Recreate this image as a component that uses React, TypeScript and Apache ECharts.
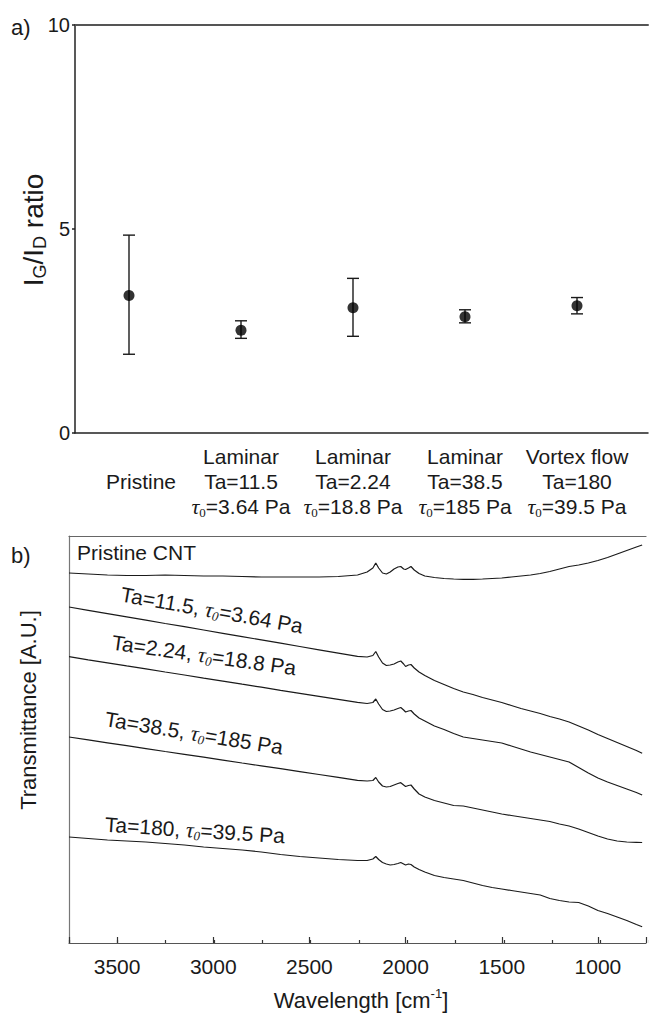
import React, { useEffect, useRef } from 'react';
import * as echarts from 'echarts';

// ---------- Panel a data ----------
const categories = ['Pristine', 'Laminar Ta=11.5', 'Laminar Ta=2.24', 'Laminar Ta=38.5', 'Vortex flow Ta=180'];
const categoryLabels = [
  '\n{p|Pristine}',
  'Laminar\nTa=11.5\n{t|τ}{s|0}=3.64 Pa',
  'Laminar\nTa=2.24\n{t|τ}{s|0}=18.8 Pa',
  'Laminar\nTa=38.5\n{t|τ}{s|0}=185 Pa',
  'Vortex flow\nTa=180\n{t|τ}{s|0}=39.5 Pa',
];
const ratioMean = [3.37, 2.52, 3.07, 2.85, 3.12];
const ratioLow = [1.93, 2.32, 2.37, 2.70, 2.92];
const ratioHigh = [4.85, 2.75, 3.79, 3.02, 3.32];
const ratioAxis = { min: 0, max: 10, interval: 5 };

// ---------- Panel b data (wavenumber in cm-1, transmittance in arbitrary units) ----------
const wavenumbers = [
  3750, 3650, 3550, 3450, 3350, 3250, 3150, 3050, 2950, 2850,
  2750, 2650, 2550, 2450, 2350, 2250, 2200, 2170, 2155, 2140,
  2120, 2100, 2080, 2060, 2040, 2025, 2010, 2000, 1985, 1972,
  1955, 1930, 1900, 1850, 1800, 1750, 1700, 1650, 1600, 1550,
  1500, 1450, 1400, 1350, 1300, 1250, 1200, 1150, 1100, 1050,
  1000, 950, 900, 850, 800, 770,
];
const pristineCNT = [
  370, 369, 368, 367.5, 367.5, 368, 367.5, 367, 367, 366.5,
  366, 366, 366, 366, 366.5, 368, 371, 375, 380, 375,
  370, 369, 371, 374, 376, 376.5, 374, 373.5, 375, 376.5,
  373, 369.5, 367, 365.5, 364.5, 364, 363.7, 363.7, 364, 364.5,
  365, 366, 367, 368, 369.5, 371.5, 374, 376.5, 378, 380,
  382.5, 385.5, 389, 392.5, 396, 398,
];
const ta11_5 = [
  336, 332.7, 329.4, 326.1, 322.8, 319.5, 316.3, 313, 309.7, 306.4,
  303.1, 299.8, 296.5, 293.2, 289.9, 286.6, 286, 287.5, 291.5, 286,
  280, 277.5, 278, 279, 281, 282, 279, 276.5, 278, 278.5,
  275, 271, 267.5, 262.5, 258.5, 254.5, 251, 248.5, 245.5, 243,
  240.5, 237.5, 234.5, 232, 229.5, 226.5, 224, 221, 217, 213,
  208.5, 204.5, 200.5, 196.5, 192.5, 189.7,
];
const ta2_24 = [
  286.3, 283.2, 280.2, 277.1, 274.1, 271, 268, 264.9, 261.9, 258.8,
  255.8, 252.7, 249.7, 246.6, 243.6, 240.6, 239.5, 240.5, 244, 239,
  233.5, 231.5, 232, 233, 234.5, 235.5, 233, 231, 232, 232.5,
  229, 225, 222, 217, 213.5, 209.5, 206, 204.5, 203, 201.5,
  200, 197, 194, 191, 188.5, 186, 183.5, 181, 175.5, 170,
  165, 161, 157.5, 154, 150.5, 148,
];
const ta38_5 = [
  206, 203.1, 200.2, 197.3, 194.4, 191.5, 188.7, 185.8, 182.9, 180,
  177.2, 174.3, 171.4, 168.5, 165.6, 162.7, 162, 162.5, 165.5, 161,
  157, 156, 156.5, 158, 159.5, 160.3, 158, 156.5, 157.5, 158,
  154, 149, 146, 142.5, 140, 137.5, 137, 135, 133, 131,
  129, 127.5, 126, 124.5, 123, 121.5, 119, 117, 114, 110.5,
  107, 104, 102, 101, 100.7, 100.5,
];
const ta180 = [
  106, 104.5, 103, 102, 101, 99.5, 98, 96, 94.5, 93,
  91, 88.5, 86.5, 85, 83.5, 82.5, 82.5, 84, 86.5, 83.5,
  80.5, 79, 78, 78.5, 79.5, 80.5, 79, 78, 79, 78.5,
  76, 73.5, 71, 67.5, 65.5, 64, 62.5, 60, 57.5, 55.5,
  54, 52.5, 51, 49.5, 48, 44.5, 42.5, 41, 40.5, 37,
  32.5, 29.5, 26, 22.5, 18.5, 16.3,
];
const spectra = [pristineCNT, ta11_5, ta2_24, ta38_5, ta180];
const spectrumNames = ['Pristine CNT', 'Ta=11.5', 'Ta=2.24', 'Ta=38.5', 'Ta=180'];
const waveAxis = { min: 750, max: 3750 };
const transAxis = { min: 0, max: 407 };

const SANS = '"Liberation Sans", Arial, Helvetica, sans-serif';
const SERIF = '"Liberation Serif", "DejaVu Serif", serif';
const INK = '#1a1a1a';

export default function App() {
  const ref = useRef<HTMLDivElement>(null);

  useEffect(() => {
    document.body.style.margin = '0';
    const chart = echarts.init(ref.current!, null, { renderer: 'svg' });

    const tauRich = {
      t: { fontFamily: SERIF, fontStyle: 'italic', fontSize: 22, color: INK, lineHeight: 25 },
      s: { fontFamily: SERIF, fontSize: 13, color: INK, verticalAlign: 'bottom' },
      p: { fontFamily: SANS, fontSize: 21, color: INK, padding: [0, 0, 0, 24], lineHeight: 25 },
    };
    const annRich = {
      t: { fontFamily: SERIF, fontStyle: 'italic', fontSize: 22, fill: INK, lineHeight: 24 },
      s: { fontFamily: SERIF, fontStyle: 'italic', fontSize: 13, fill: INK, verticalAlign: 'bottom' },
    };

    const annText = (x: number, y: number, rot: number, text: string, align = 'center') => ({
      type: 'text',
      x, y,
      rotation: rot,
      style: {
        text,
        fontFamily: SANS,
        fontSize: 21,
        fill: INK,
        align, textAlign: align,
        verticalAlign: 'middle', textVerticalAlign: 'middle',
        lineHeight: 24,
        rich: annRich,
      },
    });

    const option: any = {
      animation: false,
      backgroundColor: '#fff',
      grid: [
        { left: 75, top: 25, width: 573, height: 408 },
        { left: 73, top: 25, width: 560, height: 408 },
        { left: 69, top: 536, width: 583, height: 407 },
        { left: 69, top: 536, width: 583, height: 407 },
      ],
      xAxis: [
        {
          gridIndex: 0, type: 'value', min: 0, max: 1, position: 'bottom',
          axisLine: { show: true, onZero: false, lineStyle: { color: '#222', width: 1.5 } },
          axisTick: { show: false }, axisLabel: { show: false }, splitLine: { show: false },
        },
        {
          gridIndex: 0, type: 'value', min: 0, max: 1, position: 'top',
          axisLine: { show: true, onZero: false, lineStyle: { color: '#555', width: 2 } },
          axisTick: { show: false }, axisLabel: { show: false }, splitLine: { show: false },
        },
        {
          gridIndex: 1, type: 'category', data: categories, position: 'bottom',
          axisLine: { show: false, onZero: false }, axisTick: { show: false }, splitLine: { show: false },
          axisLabel: {
            interval: 0,
            margin: 11,
            fontFamily: SANS, fontSize: 21, color: INK, lineHeight: 25,
            formatter: (_v: string, i: number) => categoryLabels[i],
            rich: tauRich,
          },
        },
        {
          gridIndex: 2, type: 'value', inverse: true, min: waveAxis.min, max: waveAxis.max, position: 'bottom',
          axisLine: { show: true, onZero: false, lineStyle: { color: '#555', width: 1.2 } },
          axisTick: { show: true, inside: true, length: 6, lineStyle: { color: '#333', width: 1.2 } },
          splitLine: { show: false },
          axisLabel: {
            margin: 13, fontFamily: SANS, fontSize: 21, color: INK,
            formatter: (v: number) => (v % 500 === 0 ? String(v) : ''),
          },
        },
        {
          gridIndex: 2, type: 'value', inverse: true, min: waveAxis.min, max: waveAxis.max, position: 'top',
          axisLine: { show: true, onZero: false, lineStyle: { color: '#666', width: 1.2 } },
          axisTick: { show: false }, axisLabel: { show: false }, splitLine: { show: false },
        },
        {
          gridIndex: 3, type: 'value', inverse: true, min: waveAxis.min, max: waveAxis.max, interval: 250, position: 'bottom',
          axisLine: { show: false, onZero: false },
          axisTick: { show: true, inside: true, length: 3, lineStyle: { color: '#333', width: 1.2 } },
          axisLabel: { show: false }, splitLine: { show: false },
        },
      ],
      yAxis: [
        {
          gridIndex: 0, type: 'value', min: ratioAxis.min, max: ratioAxis.max, interval: ratioAxis.interval,
          axisLine: { show: true, onZero: false, lineStyle: { color: '#222', width: 1.5 } },
          axisTick: { show: true, inside: false, length: 3, lineStyle: { color: '#222', width: 1.5 } },
          splitLine: { show: false },
          axisLabel: { margin: 5, fontFamily: SANS, fontSize: 20, color: INK },
        },
        {
          gridIndex: 1, type: 'value', min: ratioAxis.min, max: ratioAxis.max, show: false,
          splitLine: { show: false },
        },
        {
          gridIndex: 2, type: 'value', min: transAxis.min, max: transAxis.max,
          axisLine: { show: true, onZero: false, lineStyle: { color: '#777', width: 1.2 } },
          axisTick: { show: false }, axisLabel: { show: false }, splitLine: { show: false },
        },
        {
          gridIndex: 3, type: 'value', min: transAxis.min, max: transAxis.max, show: false,
          splitLine: { show: false },
        },
      ],
      series: [
        {
          type: 'custom',
          xAxisIndex: 2, yAxisIndex: 1,
          data: categories.map((_c, i) => [i, ratioLow[i], ratioHigh[i]]),
          encode: { x: 0, y: [1, 2] },
          z: 2,
          renderItem: (_params: any, api: any) => {
            const x = api.value(0);
            const lo = api.coord([x, api.value(1)]);
            const hi = api.coord([x, api.value(2)]);
            const w = 6;
            const style = { stroke: INK, lineWidth: 1.4 };
            return {
              type: 'group',
              children: [
                { type: 'line', shape: { x1: hi[0], y1: hi[1], x2: lo[0], y2: lo[1] }, style },
                { type: 'line', shape: { x1: hi[0] - w, y1: hi[1], x2: hi[0] + w, y2: hi[1] }, style },
                { type: 'line', shape: { x1: lo[0] - w, y1: lo[1], x2: lo[0] + w, y2: lo[1] }, style },
              ],
            };
          },
        },
        {
          type: 'scatter',
          xAxisIndex: 2, yAxisIndex: 1,
          data: ratioMean,
          symbol: 'circle', symbolSize: 11,
          itemStyle: { color: '#000' },
          z: 3,
        },
        ...spectra.map((arr, k) => ({
          type: 'line',
          name: spectrumNames[k],
          xAxisIndex: 3, yAxisIndex: 2,
          data: wavenumbers.map((w, i) => [w, arr[i]]),
          showSymbol: false,
          symbol: 'none',
          lineStyle: { color: INK, width: 1.2 },
          z: 2,
        })),
      ],
      graphic: [
        {
          type: 'text', x: 11, y: 27,
          style: { text: 'a)', fontFamily: SANS, fontSize: 22, fill: INK, align: 'left', textAlign: 'left', verticalAlign: 'middle', textVerticalAlign: 'middle' },
        },
        {
          type: 'text', x: 11, y: 555,
          style: { text: 'b)', fontFamily: SANS, fontSize: 22, fill: INK, align: 'left', textAlign: 'left', verticalAlign: 'middle', textVerticalAlign: 'middle' },
        },
        {
          type: 'text', x: 33, y: 230, rotation: Math.PI / 2,
          style: {
            text: 'I{sub|G}/I{sub|D} ratio',
            fontFamily: SANS, fontSize: 28, fill: INK,
            align: 'center', textAlign: 'center', verticalAlign: 'middle', textVerticalAlign: 'middle',
            lineHeight: 32,
            rich: { sub: { fontFamily: SANS, fontSize: 18, fill: INK, verticalAlign: 'bottom' } },
          },
        },
        {
          type: 'text', x: 28, y: 710, rotation: Math.PI / 2,
          style: {
            text: 'Transmittance [A.U.]',
            fontFamily: SANS, fontSize: 22, fill: INK,
            align: 'center', textAlign: 'center', verticalAlign: 'middle', textVerticalAlign: 'middle',
          },
        },
        {
          type: 'text', x: 361, y: 1000,
          style: {
            text: 'Wavelength [cm{sup|-1}]',
            fontFamily: SANS, fontSize: 22, fill: INK,
            align: 'center', textAlign: 'center', verticalAlign: 'middle', textVerticalAlign: 'middle',
            lineHeight: 26,
            rich: { sup: { fontFamily: SANS, fontSize: 13, fill: INK, verticalAlign: 'top' } },
          },
        },
        annText(77, 552, 0, 'Pristine CNT', 'left'),
        annText(212, 610, -0.175, 'Ta=11.5, {t|τ}{s|0}=3.64 Pa'),
        annText(204, 655, -0.14, 'Ta=2.24, {t|τ}{s|0}=18.8 Pa'),
        annText(194, 733, -0.16, 'Ta=38.5, {t|τ}{s|0}=185 Pa'),
        annText(195, 830, -0.065, 'Ta=180, {t|τ}{s|0}=39.5 Pa'),
      ],
    };

    chart.setOption(option);
    return () => chart.dispose();
  }, []);

  return <div ref={ref} style={{ width: 649, height: 1017 }} />;
}
